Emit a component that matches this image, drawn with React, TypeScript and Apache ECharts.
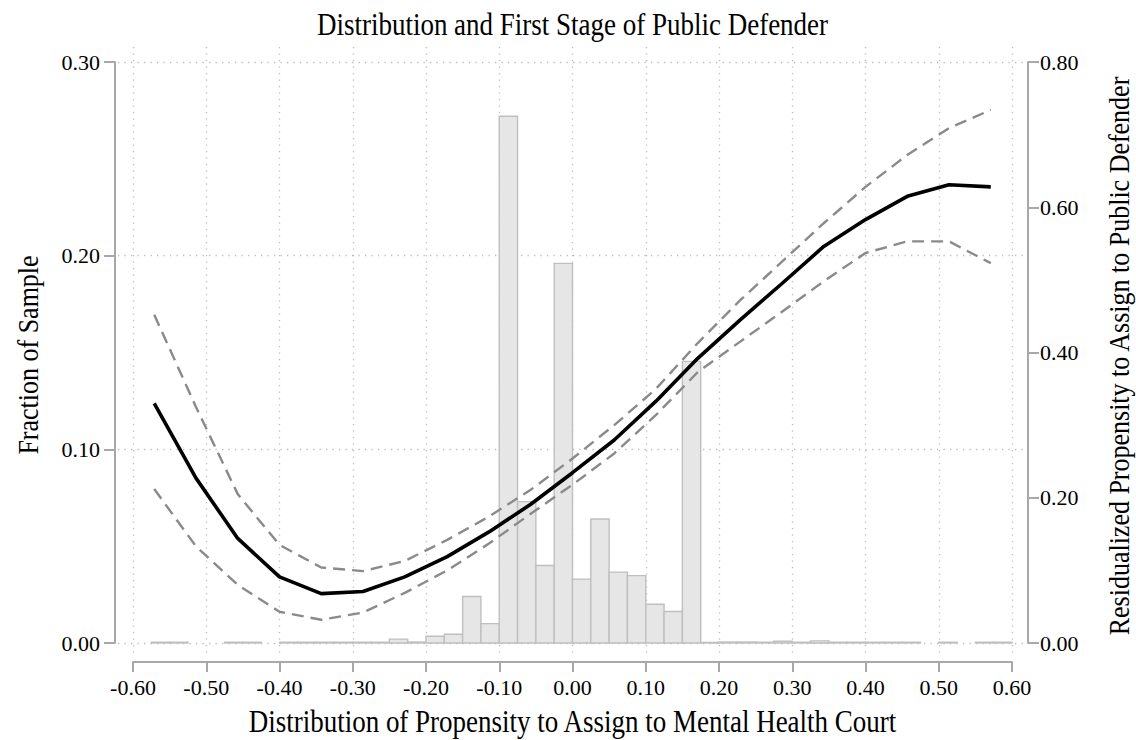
import { useEffect, useRef } from "react";
import * as echarts from "echarts";

// Histogram of the mental-health-court propensity (left axis, fraction of sample)
const BIN_WIDTH = 0.025;
const binLefts = [
  -0.575, -0.55, -0.475, -0.45, -0.4, -0.375, -0.35, -0.325, -0.3, -0.275,
  -0.25, -0.225, -0.2, -0.175, -0.15, -0.125, -0.1, -0.075, -0.05, -0.025,
  0, 0.025, 0.05, 0.075, 0.1, 0.125, 0.15, 0.175, 0.2, 0.225,
  0.25, 0.275, 0.3, 0.325, 0.35, 0.375, 0.4, 0.425, 0.45, 0.5,
  0.55, 0.575,
];
const binFractions = [
  0.0004, 0.0004, 0.0004, 0.0004, 0.0004, 0.0004, 0.0004, 0.0004, 0.0004, 0.0004,
  0.002, 0.0005, 0.0035, 0.0045, 0.024, 0.01, 0.272, 0.073, 0.04, 0.196,
  0.033, 0.064, 0.0366, 0.0348, 0.02, 0.0163, 0.1454, 0.0003, 0.0005, 0.0005,
  0.0004, 0.0009, 0.0004, 0.0011, 0.0004, 0.0004, 0.0004, 0.0004, 0.0004, 0.0004,
  0.0004, 0.0004,
];

// First-stage fit (right axis): local fit and its confidence band
const fitX = [
  -0.571, -0.514, -0.457, -0.4, -0.343, -0.286, -0.229, -0.171, -0.114, -0.057,
  0.0, 0.057, 0.114, 0.171, 0.229, 0.286, 0.343, 0.4, 0.457, 0.514, 0.571,
];
const fitMean = [
  0.33, 0.227, 0.144, 0.091, 0.068, 0.071, 0.091, 0.119, 0.153, 0.191,
  0.2345, 0.2795, 0.333, 0.392, 0.445, 0.495, 0.546, 0.583, 0.615, 0.631, 0.628,
];
const fitUpper = [
  0.452, 0.325, 0.205, 0.135, 0.104, 0.099, 0.113, 0.142, 0.174, 0.211,
  0.254, 0.3, 0.35, 0.413, 0.472, 0.525, 0.578, 0.628, 0.672, 0.709, 0.734,
];
const fitLower = [
  0.212, 0.133, 0.08, 0.043, 0.032, 0.042, 0.069, 0.1, 0.137, 0.178,
  0.218, 0.261, 0.314, 0.373, 0.415, 0.456, 0.498, 0.537, 0.553, 0.553, 0.523,
];

const leftTicks = { min: 0, max: 0.3, step: 0.1 };
const rightTicks = { min: 0, max: 0.8, step: 0.2 };
const xTicks = { min: -0.6, max: 0.6, step: 0.1 };

const chartTitle = "Distribution and First Stage of Public Defender";
const xTitle = "Distribution of Propensity to Assign to Mental Health Court";
const leftTitle = "Fraction of Sample";
const rightTitle = "Residualized Propensity to Assign to Public Defender";

const FONT = "'Liberation Serif', 'Times New Roman', serif";
const AXIS_GRAY = "#a8a8a8";
const GRID_DOT = "#bcbcbc";

// Slightly tall serif lettering for the titles
const titleText = (text: string, x: number, y: number, size: number, rotation = 0) => ({
  type: "text",
  x,
  y,
  rotation,
  scaleY: 1.15,
  silent: true,
  style: {
    text,
    fontFamily: FONT,
    fontSize: size,
    fill: "#000",
    textAlign: "center",
    textVerticalAlign: "middle",
  },
});

export default function App() {
  const ref = useRef<HTMLDivElement>(null);

  useEffect(() => {
    if (!ref.current) return;
    const chart = echarts.init(ref.current, null, { renderer: "svg" });

    const pair = (xs: number[], ys: number[]) => xs.map((x, i) => [x, ys[i]]);
    const fmt = (v: number) => v.toFixed(2);
    const solidAxis = { show: true, onZero: false, lineStyle: { color: AXIS_GRAY, width: 2 } };
    const dotted = { show: true, lineStyle: { color: GRID_DOT, width: 1.3, type: [1.3, 5.2] } };
    const tickStyle = (length: number) => ({
      show: true,
      length,
      lineStyle: { color: AXIS_GRAY, width: 2 },
    });
    const labelStyle = (margin: number) => ({
      margin,
      fontFamily: FONT,
      fontSize: 22,
      color: "#000",
      formatter: fmt,
    });

    const option: any = {
      animation: false,
      backgroundColor: "#ffffff",
      graphic: [
        titleText(chartTitle, 572.5, 24, 27),
        titleText(xTitle, 572.5, 721, 27),
        titleText(leftTitle, 28, 355, 26, Math.PI / 2),
        titleText(rightTitle, 1119, 356, 26, Math.PI / 2),
      ],
      grid: [
        // main plotting area
        { left: 133, right: 124, top: 62, bottom: 97 },
        // taller area carrying the vertical dotted grid
        { left: 133, right: 124, top: 47, bottom: 85 },
        // wider area carrying the horizontal dotted grid
        { left: 118, right: 108, top: 62, bottom: 97 },
      ],
      xAxis: [
        {
          gridIndex: 0,
          type: "value",
          min: xTicks.min,
          max: xTicks.max,
          interval: xTicks.step,
          offset: 19,
          axisLine: solidAxis,
          axisTick: tickStyle(10),
          axisLabel: labelStyle(14),
          splitLine: { show: false },
        },
        {
          gridIndex: 1,
          type: "value",
          min: xTicks.min,
          max: xTicks.max,
          interval: xTicks.step,
          axisLine: { show: false, onZero: false },
          axisTick: { show: false },
          axisLabel: { show: false },
          splitLine: dotted,
        },
        { gridIndex: 2, type: "value", min: 0, max: 1, show: false, axisLine: { onZero: false } },
      ],
      yAxis: [
        {
          gridIndex: 0,
          type: "value",
          position: "left",
          min: leftTicks.min,
          max: leftTicks.max,
          interval: leftTicks.step,
          offset: 18,
          axisLine: solidAxis,
          axisTick: tickStyle(11),
          axisLabel: labelStyle(15),
          splitLine: { show: false },
        },
        {
          gridIndex: 0,
          type: "value",
          position: "right",
          min: rightTicks.min,
          max: rightTicks.max,
          interval: rightTicks.step,
          offset: 16,
          axisLine: solidAxis,
          axisTick: tickStyle(11),
          axisLabel: labelStyle(12),
          splitLine: { show: false },
        },
        { gridIndex: 1, type: "value", min: 0, max: 1, show: false, axisLine: { onZero: false } },
        {
          gridIndex: 2,
          type: "value",
          min: leftTicks.min,
          max: leftTicks.max,
          interval: leftTicks.step,
          axisLine: { show: false, onZero: false },
          axisTick: { show: false },
          axisLabel: { show: false },
          splitLine: dotted,
        },
      ],
      series: [
        {
          type: "custom",
          name: leftTitle,
          xAxisIndex: 0,
          yAxisIndex: 0,
          encode: { x: 0, y: 1 },
          data: pair(binLefts, binFractions),
          renderItem: (_params: any, api: any) => {
            const x0 = api.value(0);
            const h = api.value(1);
            const a = api.coord([x0, h]);
            const b = api.coord([x0 + BIN_WIDTH, 0]);
            return {
              type: "rect",
              shape: { x: a[0], y: a[1], width: b[0] - a[0], height: b[1] - a[1] },
              style: { fill: "#e6e6e6", stroke: "#bfbfbf", lineWidth: 1.4 },
            };
          },
        },
        {
          type: "line",
          name: "Upper bound",
          xAxisIndex: 0,
          yAxisIndex: 1,
          data: pair(fitX, fitUpper),
          showSymbol: false,
          symbol: "none",
          lineStyle: { color: "#8a8a8a", width: 2.4, type: [12, 7] },
        },
        {
          type: "line",
          name: "Lower bound",
          xAxisIndex: 0,
          yAxisIndex: 1,
          data: pair(fitX, fitLower),
          showSymbol: false,
          symbol: "none",
          lineStyle: { color: "#8a8a8a", width: 2.4, type: [12, 7] },
        },
        {
          type: "line",
          name: "Fit",
          xAxisIndex: 0,
          yAxisIndex: 1,
          data: pair(fitX, fitMean),
          showSymbol: false,
          symbol: "none",
          lineStyle: { color: "#000000", width: 3.6 },
        },
      ],
    };

    chart.setOption(option);
    return () => chart.dispose();
  }, []);

  return (
    <div
      ref={ref}
      style={{ position: "absolute", left: 0, top: 0, width: 1136, height: 740, background: "#fff" }}
    />
  );
}
